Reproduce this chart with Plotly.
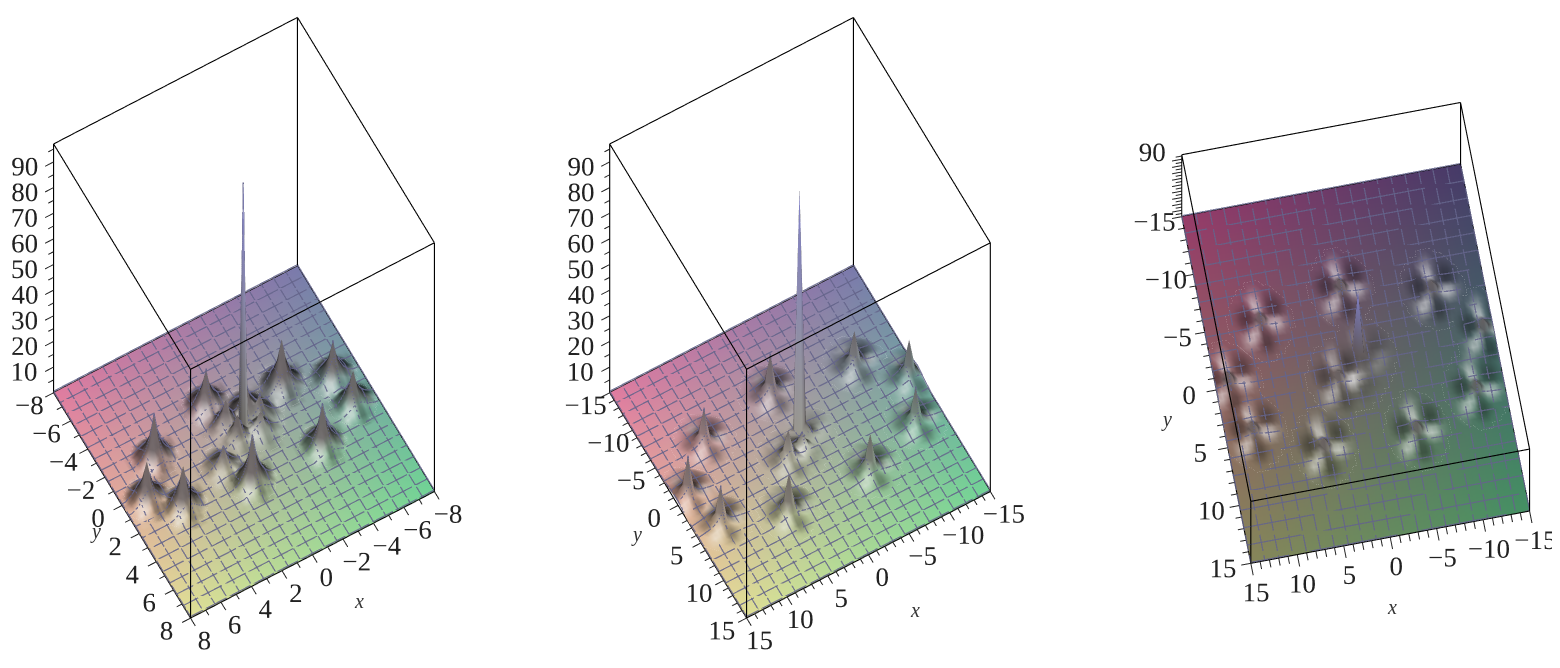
import numpy as np
import plotly.graph_objects as go

# -----------------------------
# PEAKS
# -----------------------------
left_peak_x = [0.9, 5.0, 6.6, 5.0, -3.6, -6.4, -6.6, -3.8, 0.8, 1.8, 0.4, -1.0, -1.6, -1.2, 0.2]
left_peak_y = [-3.0, -1.6, 0.4, 1.8, -2.0, -1.0, 1.0, 2.4, 2.4, 0.8, -1.4, -1.6, -1.0, -0.2, -0.4]
left_peak_h = [14, 17, 15, 16, 18, 14, 13, 16, 18, 8, 10, 11, 8, 7, 9]
left_spike = (-0.4, -0.8, 95)

wide_peak_x = [0, -9.5, -14, -12, 9, 13.5, 12, 5, -5, 2, -1, 0]
wide_peak_y = [-6.5, -5, -1, 4, -5, -0.5, 4, 6.5, 6.5, 1, -0.5, 0.5]
wide_peak_h = [15, 13, 14, 13, 13, 15, 14, 15, 14, 11, 5, 5]
wide_spike = (-0.5, -1, 95)

# peak shape around a node, as a share of the peak height
left_shape = [
    [0, 0, 0, 0, 0, .01, .02, .01, 0, 0, 0, 0, 0],
    [0, 0, 0, .025, .04, .055, .06, .055, .04, .025, 0, 0, 0],
    [0, 0, .03, .06, .09, .12, .13, .12, .09, .06, .03, 0, 0],
    [0, .025, .06, .11, .17, .22, .24, .22, .17, .11, .06, .025, 0],
    [0, .04, .09, .17, .28, .36, .40, .36, .28, .17, .09, .04, 0],
    [.01, .055, .12, .22, .36, .52, .62, .52, .36, .22, .12, .055, .01],
    [.02, .06, .13, .24, .40, .62, 1, .62, .40, .24, .13, .06, .02],
    [.01, .055, .12, .22, .36, .52, .62, .52, .36, .22, .12, .055, .01],
    [0, .04, .09, .17, .28, .36, .40, .36, .28, .17, .09, .04, 0],
    [0, .025, .06, .11, .17, .22, .24, .22, .17, .11, .06, .025, 0],
    [0, 0, .03, .06, .09, .12, .13, .12, .09, .06, .03, 0, 0],
    [0, 0, 0, .025, .04, .055, .06, .055, .04, .025, 0, 0, 0],
    [0, 0, 0, 0, 0, .01, .02, .01, 0, 0, 0, 0, 0],
]
wide_shape = [
    [0, 0, 0, 0, 0, .005, .01, .005, 0, 0, 0, 0, 0],
    [0, 0, 0, .012, .018, .022, .025, .022, .018, .012, 0, 0, 0],
    [0, 0, .014, .025, .035, .042, .045, .042, .035, .025, .014, 0, 0],
    [0, .012, .025, .04, .055, .065, .07, .065, .055, .04, .025, .012, 0],
    [0, .018, .035, .055, .085, .115, .13, .115, .085, .055, .035, .018, 0],
    [.005, .022, .042, .065, .115, .22, .35, .22, .115, .065, .042, .022, .005],
    [.01, .025, .045, .07, .13, .35, 1, .35, .13, .07, .045, .025, .01],
    [.005, .022, .042, .065, .115, .22, .35, .22, .115, .065, .042, .022, .005],
    [0, .018, .035, .055, .085, .115, .13, .115, .085, .055, .035, .018, 0],
    [0, .012, .025, .04, .055, .065, .07, .065, .055, .04, .025, .012, 0],
    [0, 0, .014, .025, .035, .042, .045, .042, .035, .025, .014, 0, 0],
    [0, 0, 0, .012, .018, .022, .025, .022, .018, .012, 0, 0, 0],
    [0, 0, 0, 0, 0, .005, .01, .005, 0, 0, 0, 0, 0],
]

# light and dark lobes round a peak, as seen on screen (+ is towards white, - towards black)
lobes = [
    [0, 0, 0, 0, 0, .1, .1, 0, 0, 0, 0, 0, 0],
    [0, 0, 0, 0, .1, .3, .3, .1, -.1, -.1, 0, 0, 0],
    [0, 0, 0, -.1, .3, .6, .5, .1, -.3, -.4, -.3, -.1, 0],
    [0, -.1, -.2, -.3, .1, .8, .7, .1, -.5, -.7, -.6, -.3, 0],
    [0, -.2, -.5, -.7, -.4, .7, .8, .1, -.6, -.9, -.8, -.4, -.1],
    [0, -.3, -.7, -.9, -.7, .1, .5, -.1, -.5, -.7, -.6, -.3, 0],
    [0, -.2, -.6, -.8, -.6, 0, 0, .2, .5, .6, .5, .2, .1],
    [0, 0, -.2, -.2, .3, .5, -.1, .3, .8, .9, .7, .3, .1],
    [0, .1, .3, .6, .8, .6, -.5, -.3, .2, .4, .3, .1, 0],
    [0, .1, .4, .8, .7, .3, -.7, -.7, -.3, 0, 0, 0, 0],
    [0, .1, .3, .4, .3, -.1, -.8, -.8, -.4, -.1, 0, 0, 0],
    [0, 0, .1, .1, 0, -.2, -.5, -.5, -.2, 0, 0, 0, 0],
    [0, 0, 0, 0, 0, 0, -.1, -.1, 0, 0, 0, 0, 0],
]

z_ticks = [10, 20, 30, 40, 50, 60, 70, 80, 90]
left_ticks = [-8, -6, -4, -2, 0, 2, 4, 6, 8]
wide_ticks = [-15, -10, -5, 0, 5, 10, 15]
z_minor = [5, 15, 25, 35, 45, 55, 65, 75, 85, 95]
left_minor = [-7, -5, -3, -1, 1, 3, 5, 7]
wide_minor = [-14, -13, -12, -11, -9, -8, -7, -6, -4, -3, -2, -1, 1, 2, 3, 4, 6, 7, 8, 9, 11, 12, 13, 14]
z_top = 97

# corner colours: (x low, y low), (x high, y low), (x low, y high), (x high, y high)
bright_corners = [(122, 122, 172), (225, 124, 160), (112, 212, 150), (225, 225, 150)]
dark_corners = [(70, 58, 105), (152, 60, 105), (68, 145, 100), (135, 135, 90)]
SPIKE_COLOR = np.array([128, 128, 200])
PEAK_COLOR = np.array([104, 96, 98])


# -----------------------------
# BUILD ONE SURFACE
# -----------------------------
def build_z(nodes, peak_x, peak_y, peak_h, spike, shape):
    step = nodes[1] - nodes[0]
    z = np.zeros((len(nodes), len(nodes)))
    shape = np.array(shape)
    reach = shape.shape[0] // 2
    for px, py, h in zip(peak_x, peak_y, peak_h):
        ci = int(round((px - nodes[0]) / step))
        cj = int(round((py - nodes[0]) / step))
        for dj in range(-reach, reach + 1):
            for di in range(-reach, reach + 1):
                i, j = ci + di, cj + dj
                if 0 <= i < len(nodes) and 0 <= j < len(nodes):
                    z[j, i] = max(z[j, i], h * shape[dj + reach, di + reach])
    ci = int(round((spike[0] - nodes[0]) / step))
    cj = int(round((spike[1] - nodes[0]) / step))
    z[cj, ci] = spike[2]
    return z


def build_shade(nodes, peak_x, peak_y, peak_h, cell):
    # cell = how many mesh nodes one entry of the lobes table covers
    step = nodes[1] - nodes[0]
    shade = np.zeros((len(nodes), len(nodes)))
    table = np.array(lobes)
    reach = int(6 * cell)
    for px, py, h in zip(peak_x, peak_y, peak_h):
        ci = int(round((px - nodes[0]) / step))
        cj = int(round((py - nodes[0]) / step))
        for dj in range(-reach, reach + 1):
            for di in range(-reach, reach + 1):
                i, j = ci + di, cj + dj
                if 0 <= i < len(nodes) and 0 <= j < len(nodes):
                    row = int(round(dj / cell)) + 6
                    col = 6 - int(round(di / cell))
                    shade[j, i] += table[row, col] * min(h / 13, 1)
    return np.clip(shade, -1, 1)


def surface_traces(nodes, z, shade, corners, scene, light, every, lift, white, black):
    n = len(nodes)
    xx, yy = np.meshgrid(nodes, nodes)
    u = (xx - nodes[0]) / (nodes[-1] - nodes[0])
    v = (yy - nodes[0]) / (nodes[-1] - nodes[0])
    c = [np.array(k, dtype=float) for k in corners]
    colors = []
    for j in range(n):
        for i in range(n):
            a, b = u[j, i], v[j, i]
            col = (1 - a) * (1 - b) * c[0] + a * (1 - b) * c[1] + (1 - a) * b * c[2] + a * b * c[3]
            s = shade[j, i]
            if s > 0:
                col = col + (250 - col) * white * s
            else:
                col = col * (1 + black * s)
            if z[j, i] > 20:
                col = SPIKE_COLOR
            elif z[j, i] > 2:
                mix = min((z[j, i] - 2) / 4, 1) * 0.9
                col = col * (1 - mix) + PEAK_COLOR * mix
            colors.append(f"rgb({int(col[0])},{int(col[1])},{int(col[2])})")
    idx = np.arange(n * n).reshape(n, n)
    a, b, d, e = idx[:-1, :-1].ravel(), idx[:-1, 1:].ravel(), idx[1:, :-1].ravel(), idx[1:, 1:].ravel()
    mesh = go.Mesh3d(
        x=xx.ravel(), y=yy.ravel(), z=z.ravel(),
        i=np.r_[a, b], j=np.r_[d, d], k=np.r_[b, e],
        vertexcolor=colors, scene=scene, hoverinfo="skip",
        lighting=light, lightposition=dict(x=60000, y=15000, z=-80000),
    )
    gx, gy, gz = [], [], []
    for k in range(0, n, every):
        gx += list(xx[:, k]) + [None]
        gy += list(yy[:, k]) + [None]
        gz += list(z[:, k] + lift) + [None]
        gx += list(xx[k, :]) + [None]
        gy += list(yy[k, :]) + [None]
        gz += list(z[k, :] + lift) + [None]
    grid = go.Scatter3d(x=gx, y=gy, z=gz, mode="lines", scene=scene, hoverinfo="skip",
                        line=dict(color="rgba(85,85,118,0.85)", width=2.5), showlegend=False)
    return [mesh, grid]


def box_trace(lo, hi, scene, major, minor, step):
    # the twelve edges of the box, then the ticks along the three labelled axes
    ex, ey, ez = [], [], []
    for a in (lo, hi):
        for b in (lo, hi):
            ex += [a, a, None]
            ey += [b, b, None]
            ez += [0, z_top, None]
        for h in (0, z_top):
            ex += [lo, hi, None, a, a, None]
            ey += [a, a, None, lo, hi, None]
            ez += [h, h, None, h, h, None]
    frame = go.Scatter3d(x=ex, y=ey, z=ez, mode="lines", scene=scene, hoverinfo="skip",
                         line=dict(color="black", width=2.2), showlegend=False)
    tx, ty, tz = [], [], []
    for values, length in ((major, step * 1.6), (minor, step)):
        for t in values:
            tx += [t, t, None, hi, hi + length, None]
            ty += [hi, hi + length, None, t, t, None]
            tz += [0, 0, None, 0, 0, None]
    for values, length in ((z_ticks, step * 1.6), (z_minor, step)):
        for t in values:
            tx += [hi, hi + length, None]
            ty += [lo, lo, None]
            tz += [t, t, None]
    ticks = go.Scatter3d(x=tx, y=ty, z=tz, mode="lines", scene=scene, hoverinfo="skip",
                         line=dict(color="#222222", width=2), showlegend=False)
    return [frame, ticks]


def axis(ticks, rng, labels=None):
    text = labels if labels else [str(t).replace("-", "\u2212") for t in ticks]
    return dict(
        range=rng, tickvals=ticks, ticktext=text,
        tickangle=0, showbackground=False, showgrid=False, zeroline=False, showspikes=False,
        showline=False, ticks="",
        tickfont=dict(family="Liberation Serif", size=18, color="#222222"),
        title=dict(text=""),
    )


def scene_layout(ticks, rng, domain_x, domain_y, aspect, eye, center_x, center_z, z_labels=None):
    return dict(
        domain=dict(x=domain_x, y=domain_y),
        xaxis=axis(ticks, rng), yaxis=axis(ticks, rng), zaxis=axis(z_ticks, [0, z_top], z_labels),
        aspectmode="manual", aspectratio=dict(x=aspect[0], y=aspect[1], z=aspect[2]),
        camera=dict(eye=dict(x=eye[0] + center_x, y=eye[1], z=eye[2] + center_z), up=dict(x=0, y=0, z=1),
                    center=dict(x=center_x, y=0, z=center_z), projection=dict(type="orthographic")),
    )


def axis_name(text, px, py):
    return dict(x=px / 1560, y=1 - py / 668, xref="paper", yref="paper", text=f"<i>{text}</i>",
                showarrow=False, font=dict(family="Liberation Serif", size=20, color="#333333"))


# -----------------------------
# PANELS
# -----------------------------
left_nodes = np.linspace(-8, 8, 81)
wide_nodes = np.linspace(-15, 15, 61)
left_z = build_z(left_nodes, left_peak_x, left_peak_y, left_peak_h, left_spike, left_shape)
wide_z = build_z(wide_nodes, wide_peak_x, wide_peak_y, wide_peak_h, wide_spike, wide_shape)
left_shade = build_shade(left_nodes, left_peak_x, left_peak_y, left_peak_h, 1.3)
wide_shade = build_shade(wide_nodes, wide_peak_x, wide_peak_y, wide_peak_h, 1)

light = dict(ambient=0.35, diffuse=0.95, specular=0.15, roughness=0.5, fresnel=0.1)

fig = go.Figure()
for tr in surface_traces(left_nodes, left_z, left_shade, bright_corners, "scene", light, 4, 0.6, 0.7, 0.4):
    fig.add_trace(tr)
for tr in box_trace(-8, 8, "scene", left_ticks, left_minor, 0.35):
    fig.add_trace(tr)
for tr in surface_traces(wide_nodes, wide_z, wide_shade, bright_corners, "scene2", light, 3, 0.6, 0.6, 0.4):
    fig.add_trace(tr)
for tr in box_trace(-15, 15, "scene2", wide_ticks, wide_minor, 0.65):
    fig.add_trace(tr)
for tr in surface_traces(wide_nodes, wide_z, wide_shade, dark_corners, "scene3", light, 3, 1.5, 0.65, 0.4):
    fig.add_trace(tr)
for tr in box_trace(-15, 15, "scene3", wide_ticks, wide_minor, 0.65):
    fig.add_trace(tr)

scale_a = 4
scale_b = 4
eye_a = [0.187 * scale_a, 0.333 * scale_a, 0.924 * scale_a]
eye_b = [0.046 * scale_b, 0.238 * scale_b, 0.970 * scale_b]
z_sparse = ["", "", "", "", "", "", "", "", "90"]

fig.update_layout(
    width=1560, height=668, margin=dict(l=0, r=0, t=0, b=0),
    paper_bgcolor="white", showlegend=False,
    scene=scene_layout(left_ticks, [-8.56, 8.56], [0, 472 / 1560], [0, 1], (0.896, 0.896, 1.95), eye_a, 0, -0.19),
    scene2=scene_layout(wide_ticks, [-16.04, 16.04], [540 / 1560, 1044 / 1560], [0, 1], (0.895, 0.895, 1.95),
                        eye_a, 0, -0.19),
    scene3=scene_layout(wide_ticks, [-16.04, 16.04], [1096 / 1560, 1], [0, 1], (0.909, 1.165, 0.765), eye_b, 0.06,
                        -0.067, z_sparse),
    annotations=[
        axis_name("x", 344, 606), axis_name("y", 80, 537),
        axis_name("x", 907, 615), axis_name("y", 628, 540),
        axis_name("x", 1391, 612), axis_name("y", 1166, 411),
    ],
)

fig.write_html("out.html")
